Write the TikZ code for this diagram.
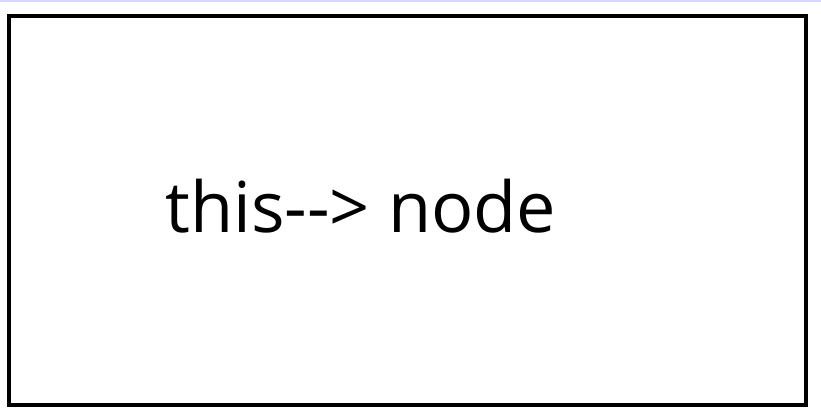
\documentclass[tikz,border=0pt]{standalone}
\usepackage{fontspec}
\newfontfamily\labelfont{Open Sans}
\begin{document}
\begin{tikzpicture}[x=0.02cm,y=-0.02cm]
\tikzset{frame/.style={draw=black,line width=2.7pt},
  label text/.style={font=\labelfont\fontsize{40}{48}\selectfont,inner sep=0pt,anchor=base west}}
\useasboundingbox (0,0) rectangle (821,413);
\draw[color=blue!15,line width=1pt] (0,1) -- (821,1);
\draw[frame] (9,16) rectangle (806,405);
\node[label text] (txt) at (165,232) {this-{}-> node};
\end{tikzpicture}
\end{document}
